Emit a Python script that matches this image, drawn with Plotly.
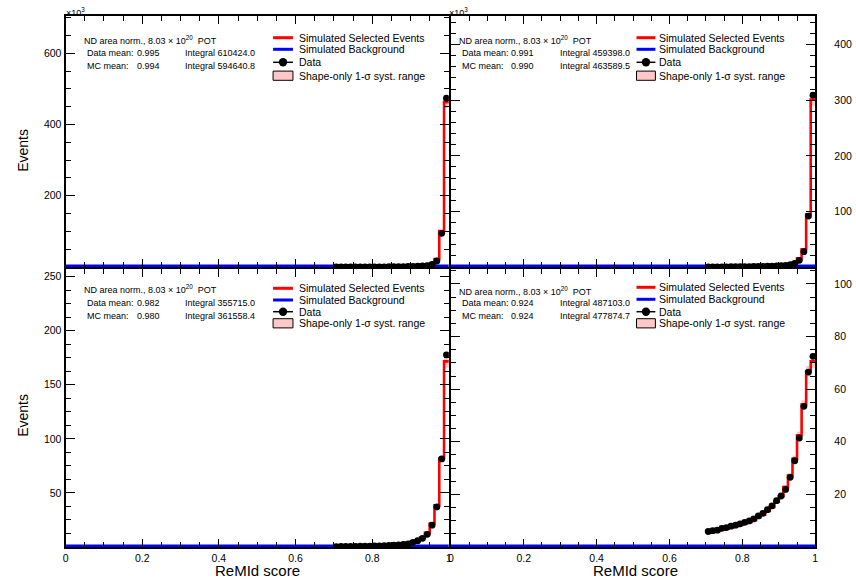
import numpy as np
import plotly.graph_objects as go

W, H = 856, 581
FONT = "Liberation Sans, Arial, Helvetica, sans-serif"

# ---------------- binning ----------------
BIN_WIDTH = 0.0125
N_BINS = 80
FIRST_FILLED_BIN = 56  # ReMId > 0.7

# ---------------- data (values x10^3 events, ascending in ReMId from 0.70625) ----------------
data_tl = [0.1, 0.1, 0.15, 0.2, 0.2, 0.25, 0.3, 0.35, 0.4, 0.5, 0.55, 0.65, 0.8, 0.95, 1.1, 1.4,
           1.7, 2.1, 2.8, 3.9, 7.6, 16.9, 94.7, 474.0]
mc_tl = [0.1, 0.1, 0.12, 0.15, 0.2, 0.22, 0.28, 0.32, 0.4, 0.45, 0.55, 0.65, 0.75, 0.9, 1.1, 1.35,
         1.7, 2.2, 3.0, 4.3, 8.5, 22.5, 101.0, 463.0]

data_tr = [0.2, 0.25, 0.3, 0.35, 0.4, 0.45, 0.5, 0.6, 0.7, 0.8, 0.9, 1.0, 1.2, 1.4, 1.7, 2.0,
           2.4, 3.0, 4.2, 6.6, 12.0, 27.6, 91.6, 309.0]
mc_tr = [0.2, 0.25, 0.3, 0.35, 0.4, 0.45, 0.5, 0.6, 0.7, 0.8, 0.9, 1.0, 1.2, 1.4, 1.7, 2.0,
         2.5, 3.3, 5.0, 8.0, 15.6, 31.8, 94.6, 301.0]

data_bl = [0.4, 0.45, 0.5, 0.55, 0.6, 0.7, 0.8, 0.9, 1.0, 1.1, 1.3, 1.5, 1.7, 2.0, 2.4, 2.9,
           4.3, 5.8, 8.0, 11.7, 20.2, 37.0, 81.4, 177.7]
mc_bl = [0.5, 0.55, 0.6, 0.7, 0.8, 0.9, 1.0, 1.1, 1.2, 1.4, 1.6, 1.8, 2.1, 2.5, 3.0, 3.7,
         4.8, 6.2, 8.9, 13.1, 21.7, 38.5, 82.0, 171.6]

data_br = [5.9, 6.2, 6.4, 7.1, 7.4, 7.9, 8.3, 8.8, 9.4, 9.9, 10.7, 11.8, 12.8, 14.2, 15.6, 17.6,
           19.4, 21.9, 26.5, 32.8, 41.4, 53.5, 66.5, 72.5]
mc_br = [5.5, 5.8, 6.1, 6.7, 7.0, 7.5, 7.9, 8.4, 9.0, 9.5, 10.2, 11.3, 12.3, 13.7, 15.2, 17.2,
         19.3, 22.8, 27.2, 33.5, 42.5, 54.2, 66.8, 70.6]

# shape-only systematic (relative half width per filled bin)
syst_rel = [0.06, 0.06, 0.06, 0.055, 0.055, 0.055, 0.05, 0.05, 0.05, 0.05, 0.045, 0.045,
            0.045, 0.04, 0.04, 0.04, 0.04, 0.035, 0.035, 0.035, 0.03, 0.03, 0.03, 0.035]

# background (negligible)
bkg_level = [0.0, 0.0, 0.0, 0.0]

# axes
y_max = [705.0, 451.5, 257.0, 105.7]
y_ticks = [[200, 400, 600], [100, 200, 300, 400], [50, 100, 150, 200, 250], [20, 40, 60, 80, 100]]
y_minor = [50, 20, 12.5, 5]
x_ticks = [0, 0.2, 0.4, 0.6, 0.8, 1]
x_tick_text = ["0", "0.2", "0.4", "0.6", "0.8", "1"]

# stat boxes
data_means = ["0.995", "0.991", "0.982", "0.924"]
mc_means = ["0.994", "0.990", "0.980", "0.924"]
data_integrals = ["610424.0", "459398.0", "355715.0", "487103.0"]
mc_integrals = ["594640.8", "463589.5", "361558.4", "477874.7"]

legend_labels = ["Simulated Selected Events", "Simulated Background", "Data",
                 "Shape-only 1-\u03c3 syst. range"]

# ---------------- figure ----------------
def px(x):
    return x / W


def py(y):
    return 1 - y / H


panels = [
    dict(data=data_tl, mc=mc_tl, xa="x", ya="y", xd=[63, 449], yd=[16, 267], right=False, xlab=False),
    dict(data=data_tr, mc=mc_tr, xa="x2", ya="y2", xd=[451, 818], yd=[16, 267], right=True, xlab=False),
    dict(data=data_bl, mc=mc_bl, xa="x3", ya="y3", xd=[63, 449], yd=[269, 547], right=False, xlab=True),
    dict(data=data_br, mc=mc_br, xa="x4", ya="y4", xd=[451, 818], yd=[269, 547], right=True, xlab=True),
]

edges = np.arange(N_BINS + 1) * BIN_WIDTH
centers = edges[:-1] + BIN_WIDTH / 2

fig = go.Figure()
layout = dict(width=W, height=H, autosize=False, margin=dict(l=0, r=0, t=0, b=0),
              paper_bgcolor="white", plot_bgcolor="white", showlegend=False,
              font=dict(family=FONT, color="black"))

PINK = "#FFC8C8"
shapes = []
annotations = []

for i, p in enumerate(panels):
    mc = np.array(p["mc"])
    dat = np.array(p["data"])
    rel = np.array(syst_rel)
    sel_edges = edges[FIRST_FILLED_BIN:]
    lo = mc * (1 - rel)
    hi = mc * (1 + rel)
    # band
    fig.add_trace(go.Scatter(x=sel_edges, y=np.append(lo, lo[-1]), mode="lines", line_shape="hv",
                             line=dict(width=0, color=PINK), xaxis=p["xa"], yaxis=p["ya"],
                             hoverinfo="skip"))
    fig.add_trace(go.Scatter(x=sel_edges, y=np.append(hi, hi[-1]), mode="lines", line_shape="hv",
                             line=dict(width=0, color=PINK), fill="tonexty", fillcolor=PINK,
                             xaxis=p["xa"], yaxis=p["ya"], hoverinfo="skip"))
    # MC
    fig.add_trace(go.Scatter(x=sel_edges, y=np.append(mc, mc[-1]), mode="lines", line_shape="hv",
                             line=dict(width=2.6, color="#FF0000"), xaxis=p["xa"], yaxis=p["ya"],
                             name=legend_labels[0]))
    # background
    bk = np.full(N_BINS + 1, bkg_level[i])
    fig.add_trace(go.Scatter(x=edges, y=bk, mode="lines", line_shape="hv",
                             line=dict(width=5, color="#0000FF"), xaxis=p["xa"], yaxis=p["ya"],
                             name=legend_labels[1]))
    # data
    fig.add_trace(go.Scatter(x=centers[FIRST_FILLED_BIN:], y=dat, mode="markers",
                             marker=dict(color="black", size=6.8), xaxis=p["xa"], yaxis=p["ya"],
                             name=legend_labels[2]))

    suffix = "" if i == 0 else str(i + 1)
    common_line = dict(showline=True, linecolor="black", linewidth=2, mirror="allticks",
                       ticks="inside", tickcolor="black", tickwidth=1, showgrid=False, zeroline=False)
    xaxis = dict(common_line, domain=[px(p["xd"][0]), px(p["xd"][1])], range=[0, 1],
                 anchor="y" + suffix, tickmode="array", tickvals=x_ticks, ticktext=x_tick_text,
                 ticklen=8, showticklabels=p["xlab"], tickfont=dict(size=10.5, family=FONT, color="black"),
                 minor=dict(ticks="inside", ticklen=5, tickmode="linear", tick0=0, dtick=0.05,
                            tickcolor="black", tickwidth=1, showgrid=False))
    yaxis = dict(common_line, domain=[py(p["yd"][1]), py(p["yd"][0])], range=[0, y_max[i]],
                 anchor="x" + suffix, tickmode="array", tickvals=y_ticks[i],
                 ticktext=[str(v) for v in y_ticks[i]], ticklen=9,
                 side="right" if p["right"] else "left",
                 tickfont=dict(size=10.5, family=FONT, color="black"),
                 minor=dict(ticks="inside", ticklen=5, tickmode="linear", tick0=0, dtick=y_minor[i],
                            tickcolor="black", tickwidth=1, showgrid=False))
    if p["right"]:
        yaxis["ticklabelstandoff"] = 15
    layout["xaxis" + suffix] = xaxis
    layout["yaxis" + suffix] = yaxis

# ---------------- text boxes ----------------
def ann(x, y, text, size, xanchor="left", angle=0):
    annotations.append(dict(x=px(x), y=py(y), xref="paper", yref="paper", text=text, showarrow=False,
                            xanchor=xanchor, yanchor="middle", textangle=angle,
                            font=dict(size=size, family=FONT, color="black")))


stat_pos = [
    dict(nd=(80, 39.5), lab=83, val=133, integ=181.5, rows=(53.3, 65.7)),
    dict(nd=(457.5, 40), lab=460.5, val=510, integ=559.3, rows=(53.3, 66.0)),
    dict(nd=(80, 289.3), lab=83, val=133, integ=181.5, rows=(303.3, 316.0)),
    dict(nd=(457.5, 290.7), lab=460.5, val=510, integ=559.3, rows=(303.3, 316.0)),
]
for i, s in enumerate(stat_pos):
    ann(s["nd"][0], s["nd"][1], "ND area norm., 8.03 \u00d7 10<sup>20</sup>  POT", 9)
    ann(s["lab"], s["rows"][0], "Data mean:", 9)
    ann(s["val"], s["rows"][0], data_means[i], 9)
    ann(s["integ"], s["rows"][0], "Integral " + data_integrals[i], 9)
    ann(s["lab"], s["rows"][1], "MC mean:", 9)
    ann(s["val"], s["rows"][1], mc_means[i], 9)
    ann(s["integ"], s["rows"][1], "Integral " + mc_integrals[i], 9)

# ---------------- legends (drawn by hand) ----------------
leg_pos = [
    dict(x0=272, x1=292, tx=296, rows=(37.7, 49.3, 62.3, 75.7)),
    dict(x0=638, x1=657, tx=658.5, rows=(37.7, 49.3, 62.3, 75.7)),
    dict(x0=272, x1=292, tx=296, rows=(288.3, 300.0, 311.7, 323.3)),
    dict(x0=638, x1=657, tx=658.5, rows=(287.3, 299.3, 311.7, 323.3)),
]
for lp in leg_pos:
    r = lp["rows"]
    shapes.append(dict(type="line", xref="paper", yref="paper", x0=px(lp["x0"]), x1=px(lp["x1"]),
                       y0=py(r[0]), y1=py(r[0]), line=dict(color="#FF0000", width=3)))
    shapes.append(dict(type="line", xref="paper", yref="paper", x0=px(lp["x0"]), x1=px(lp["x1"]),
                       y0=py(r[1]), y1=py(r[1]), line=dict(color="#0000FF", width=3)))
    shapes.append(dict(type="line", xref="paper", yref="paper", x0=px(lp["x0"]), x1=px(lp["x1"]),
                       y0=py(r[2]), y1=py(r[2]), line=dict(color="black", width=1.5)))
    cx = (lp["x0"] + lp["x1"]) / 2
    shapes.append(dict(type="circle", xref="paper", yref="paper", x0=px(cx - 4.2), x1=px(cx + 4.2),
                       y0=py(r[2] + 4.2), y1=py(r[2] - 4.2), fillcolor="black",
                       line=dict(color="black", width=0)))
    shapes.append(dict(type="rect", xref="paper", yref="paper", x0=px(lp["x0"]), x1=px(lp["x1"]),
                       y0=py(r[3] + 4.6), y1=py(r[3] - 4.6), fillcolor=PINK,
                       line=dict(color="black", width=1)))
    for k in range(4):
        ann(lp["tx"], r[k], legend_labels[k], 10.5)

# ---------------- axis titles & exponents ----------------
ann(61, 12, "\u00d710<sup>3</sup>", 9)
ann(447, 12, "\u00d710<sup>3</sup>", 9)
ann(20, 150, "Events", 14, xanchor="center", angle=-90)
ann(20, 415, "Events", 14, xanchor="center", angle=-90)
ann(256, 570, "ReMId score", 15, xanchor="center")
ann(637, 570, "ReMId score", 15, xanchor="center")

layout["shapes"] = shapes
layout["annotations"] = annotations
fig.update_layout(**layout)
fig.write_html("out.html", config={"displayModeBar": False},
               post_script="document.body.style.margin='0px';document.body.style.overflow='hidden';")
